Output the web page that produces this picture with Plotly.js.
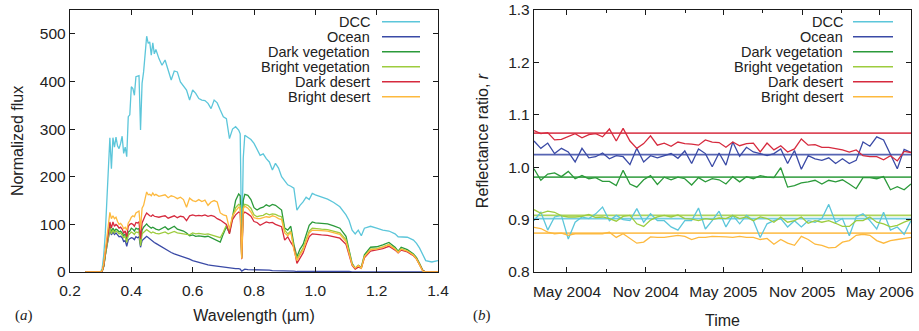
<!DOCTYPE html>
<html>
<head>
<meta charset="utf-8">
<script src="https://cdn.plot.ly/plotly-3.0.1.min.js"></script>
<style>html,body{margin:0;padding:0;background:#fff;}#chart{width:919px;height:331px;}</style>
</head>
<body>
<div id="chart"></div>
<script>
// ---------- Panel (a): spectra ----------
const seriesNames = ["DCC", "Ocean", "Dark vegetation", "Bright vegetation", "Dark desert", "Bright desert"];
const seriesColors = ["#5cc6da", "#3a4aa6", "#2b9a3a", "#9dcc3e", "#d62a3e", "#fdb93e"];

const wavelength = [0.25,0.30,0.305,0.31,0.315,0.32,0.325,0.33,0.335,0.34,0.345,0.35,0.355,0.36,0.365,0.37,0.375,0.38,0.385,0.39,0.395,0.40,0.405,0.41,0.415,0.42,0.425,0.43,0.435,0.44,0.445,0.45,0.455,0.46,0.465,0.47,0.475,0.48,
0.49,0.50,0.51,0.52,0.53,0.54,0.55,0.56,0.57,0.58,0.59,0.60,0.61,0.62,0.63,0.64,0.65,0.66,0.67,0.68,0.69,0.70,0.71,0.72,0.73,0.74,0.75,0.755,0.76,0.765,
0.77,0.78,0.79,0.80,0.81,0.82,0.83,0.84,0.85,0.86,0.87,0.88,0.89,0.90,0.91,0.92,0.93,0.94,0.95,0.96,0.97,0.98,0.99,
1.00,1.02,1.04,1.06,1.08,1.10,1.11,1.12,1.13,1.14,1.15,1.16,1.18,1.20,1.22,1.24,1.26,1.27,1.28,1.30,1.32,1.33,1.34,1.35,1.36,1.38,1.40];

const fluxDCC = [0,0,8,35,80,155,240,282,217,282,262,283,265,259,270,285,249,262,242,326,330,389,385,371,410,411,412,298,396,420,460,495,480,483,455,481,458,467,
448,434,445,424,403,422,420,399,390,382,361,382,375,364,361,360,354,343,361,355,340,326,322,280,300,305,298,290,50,240,
287,282,278,270,258,245,248,238,231,214,228,218,200,192,183,180,176,130,140,147,157,152,165,
162,158,153,146,137,120,108,88,80,88,76,92,96,92,88,86,80,74,74,73,67,60,50,35,24,21,24];

const fluxOcean = [0,0,2,12,35,55,75,88,78,84,79,82,78,74,75,72,64,66,54,67,70,72,71,68,74,72,74,52,66,70,72,75,72,70,67,64,62,60,
56,52,48,44,41,38,36,34,31,29,27,24,22,20,18,16,15,14,13,12,11,10,9,8,8,7,7,6,2,5,
6,5,5,5,4,4,4,4,4,3,3,3,3,3,2,2,2,1,1,2,2,2,2,
2,2,2,1,1,1,1,0,0,0,0,0,0,0,0,0,0,0,0,0,0,0,0,0,0,0,0];

const fluxDarkVeg = [0,0,2,12,35,60,82,97,84,92,86,90,88,84,86,82,76,80,66,84,86,92,90,86,92,90,91,58,88,94,97,101,97,95,92,94,91,90,
88,92,95,89,93,96,90,88,86,82,76,78,75,76,75,74,75,72,69,66,63,80,95,82,120,150,164,160,30,150,
163,161,152,135,130,134,136,141,138,142,140,134,130,92,88,96,58,32,48,58,76,98,105,
103,102,101,97,92,75,48,18,8,14,10,36,52,53,57,62,52,44,52,47,38,30,18,4,0,0,0];

const fluxBrightVeg = [0,0,2,12,34,57,78,92,80,88,82,86,84,80,82,78,72,75,62,77,80,84,82,79,84,83,84,55,80,84,86,89,86,85,82,84,82,81,
80,82,84,80,82,85,82,81,80,79,78,82,80,81,80,79,80,78,76,74,72,84,98,84,115,135,142,140,30,136,
142,140,134,120,116,118,119,123,120,122,121,118,116,88,80,86,52,28,40,50,68,86,92,
91,90,89,86,82,68,44,16,7,12,9,33,48,49,53,58,49,42,49,44,36,28,16,3,0,0,0];

const fluxDarkDesert = [0,0,2,14,40,62,88,105,92,105,96,100,97,92,94,90,82,86,74,96,100,102,100,96,104,103,105,70,103,112,118,124,120,118,117,120,117,116,
115,117,118,113,116,118,114,117,116,108,118,120,118,119,118,120,117,119,117,112,109,104,100,80,110,120,126,124,27,122,
126,122,117,106,104,98,102,105,103,104,100,98,95,67,74,62,52,18,30,40,58,74,80,
79,78,77,74,71,58,38,14,6,10,8,30,44,46,49,54,46,40,46,42,34,27,15,3,0,0,0];

const fluxBrightDesert = [0,0,3,18,45,70,100,125,112,118,112,115,106,100,102,98,91,94,88,103,108,115,118,116,124,126,128,90,134,140,155,168,162,163,160,166,161,163,
159,160,162,156,160,158,154,157,152,136,155,150,148,152,148,151,140,147,150,147,124,120,118,90,118,128,136,134,28,133,
138,134,126,114,112,112,114,116,115,118,116,112,110,82,76,84,46,24,36,46,64,82,88,
88,87,86,83,79,64,42,15,8,14,8,32,47,48,52,57,48,41,48,44,35,27,15,2,0,0,0];

// ---------- Panel (b): reflectance ratio time series ----------
const dates = ["2004-02-14","2004-03-01","2004-03-17","2004-04-02","2004-04-18","2004-05-04","2004-05-20","2004-06-05","2004-06-21","2004-07-07",
"2004-07-23","2004-08-08","2004-08-24","2004-09-09","2004-09-25","2004-10-11","2004-10-27","2004-11-12","2004-11-28","2004-12-14",
"2004-12-30","2005-01-15","2005-01-31","2005-02-16","2005-03-04","2005-03-20","2005-04-05","2005-04-21","2005-05-07","2005-05-23",
"2005-06-08","2005-06-24","2005-07-10","2005-07-26","2005-08-11","2005-08-27","2005-09-12","2005-09-28","2005-10-14","2005-10-30",
"2005-11-15","2005-12-01","2005-12-17","2006-01-02","2006-01-18","2006-02-03","2006-02-19","2006-03-07","2006-03-23","2006-04-08",
"2006-04-24","2006-05-10","2006-05-26","2006-06-11","2006-06-27","2006-07-13"];

const ratioDCC = [0.898,0.914,0.880,0.905,0.908,0.863,0.895,0.905,0.902,0.911,0.924,0.898,0.908,0.900,0.898,0.921,0.895,0.911,0.898,0.898,
0.886,0.880,0.898,0.898,0.922,0.882,0.898,0.916,0.886,0.908,0.892,0.908,0.898,0.866,0.892,0.898,0.902,0.886,0.898,0.886,
0.898,0.895,0.902,0.929,0.895,0.902,0.869,0.905,0.911,0.898,0.882,0.914,0.880,0.886,0.872,0.898];

const ratioOcean = [1.050,1.036,1.046,1.026,1.036,1.029,1.010,1.036,1.018,1.020,1.027,1.016,1.022,1.020,1.005,1.036,1.010,1.022,1.018,1.022,
1.026,1.017,1.031,1.007,1.035,1.026,1.001,1.027,1.004,1.048,1.021,1.038,1.029,1.026,1.022,1.026,1.035,1.007,1.032,0.996,
1.022,1.016,1.013,1.018,1.007,1.016,1.007,1.013,1.048,1.040,1.058,1.052,1.024,0.997,1.034,1.028];

const ratioDarkVeg = [0.997,0.975,0.987,0.989,0.982,0.992,0.978,0.984,0.978,0.980,0.973,0.973,0.965,0.994,0.968,0.962,0.976,0.984,0.967,0.981,
0.976,0.981,0.978,0.966,0.980,0.972,0.978,0.976,0.968,0.982,0.972,0.982,0.978,0.984,0.981,0.980,0.999,0.962,0.965,0.970,
0.972,0.975,0.968,0.975,0.972,0.976,0.968,0.959,0.980,0.980,0.978,0.982,0.957,0.963,0.957,0.968];

const ratioBrightVeg = [0.919,0.912,0.916,0.914,0.907,0.905,0.905,0.906,0.910,0.904,0.905,0.902,0.897,0.906,0.908,0.892,0.887,0.899,0.905,0.908,
0.905,0.909,0.902,0.901,0.898,0.902,0.900,0.903,0.902,0.908,0.902,0.905,0.898,0.905,0.902,0.895,0.905,0.895,0.898,0.905,
0.893,0.898,0.895,0.898,0.893,0.887,0.887,0.898,0.898,0.905,0.895,0.892,0.886,0.889,0.895,0.900];

const ratioDarkDesert = [1.070,1.064,1.066,1.052,1.053,1.058,1.064,1.056,1.062,1.064,1.058,1.073,1.050,1.074,1.050,1.036,1.045,1.060,1.042,1.046,
1.040,1.048,1.045,1.044,1.042,1.052,1.048,1.047,1.038,1.048,1.041,1.045,1.046,1.029,1.046,1.033,1.041,1.029,1.035,1.054,
1.042,1.043,1.038,1.038,1.036,1.033,1.029,1.033,1.022,1.020,1.020,1.014,1.022,1.012,1.030,1.028];

const ratioBrightDesert = [0.885,0.883,0.876,0.873,0.874,0.870,0.873,0.873,0.872,0.873,0.873,0.876,0.866,0.873,0.864,0.855,0.857,0.867,0.866,0.866,
0.868,0.870,0.868,0.862,0.866,0.866,0.868,0.868,0.867,0.866,0.868,0.866,0.866,0.862,0.864,0.853,0.862,0.855,0.851,0.868,
0.862,0.853,0.851,0.846,0.847,0.857,0.860,0.870,0.872,0.870,0.860,0.855,0.860,0.862,0.864,0.866];

const refLevels = [0.902, 1.024, 0.981, 0.908, 1.065, 0.874];

// ---------- build ----------
const fluxes = [fluxDCC, fluxOcean, fluxDarkVeg, fluxBrightVeg, fluxDarkDesert, fluxBrightDesert];
const ratios = [ratioDCC, ratioOcean, ratioDarkVeg, ratioBrightVeg, ratioDarkDesert, ratioBrightDesert];

const traces = [];
fluxes.forEach((f, k) => {
  traces.push({x: wavelength, y: f, type: 'scatter', mode: 'lines', xaxis: 'x', yaxis: 'y',
    line: {color: seriesColors[k], width: 1.3}, showlegend: false, hoverinfo: 'skip'});
});
ratios.forEach((r, k) => {
  traces.push({x: [dates[0], dates[dates.length - 1]], y: [refLevels[k], refLevels[k]], type: 'scatter', mode: 'lines',
    xaxis: 'x2', yaxis: 'y2', line: {color: seriesColors[k], width: 1.8}, opacity: 0.85, showlegend: false, hoverinfo: 'skip'});
});
ratios.forEach((r, k) => {
  traces.push({x: dates, y: r, type: 'scatter', mode: 'lines', xaxis: 'x2', yaxis: 'y2',
    line: {color: seriesColors[k], width: 1.3}, showlegend: false, hoverinfo: 'skip'});
});

const W = 919, H = 331;
const px = v => v / W;
const py = v => 1 - v / H;
const FONT = 'Liberation Sans, Arial, Helvetica, sans-serif';
const TXT = '#222';

const axisCommon = {
  showline: true, linecolor: '#1a1a1a', linewidth: 1.2, mirror: 'ticks',
  ticks: 'inside', ticklen: 5, tickcolor: '#1a1a1a', tickwidth: 1,
  showgrid: false, zeroline: false, tickfont: {family: FONT, size: 15.5, color: TXT}
};

const annotations = [];
const shapes = [];
function legend(textRight, lineL, lineR) {
  seriesNames.forEach((name, k) => {
    const yy = py(21.7 + 15 * k);
    annotations.push({xref: 'paper', yref: 'paper', x: px(textRight), y: yy, xanchor: 'right', yanchor: 'middle',
      text: name, showarrow: false, font: {family: FONT, size: 14.5, color: TXT}});
    shapes.push({type: 'line', xref: 'paper', yref: 'paper', x0: px(lineL), x1: px(lineR), y0: yy, y1: yy,
      line: {color: seriesColors[k], width: 1.5}});
  });
}
legend(372, 382, 420);
legend(845, 853, 893);

annotations.push({xref: 'paper', yref: 'paper', x: px(13), y: py(315), xanchor: 'left', yanchor: 'middle',
  text: '(<i>a</i>)', showarrow: false, font: {family: 'Liberation Serif, Times New Roman, serif', size: 15, color: TXT}});
annotations.push({xref: 'paper', yref: 'paper', x: px(471), y: py(315), xanchor: 'left', yanchor: 'middle',
  text: '(<i>b</i>)', showarrow: false, font: {family: 'Liberation Serif, Times New Roman, serif', size: 15, color: TXT}});

const layout = {
  width: W, height: H,
  margin: {l: 0, r: 0, t: 0, b: 0},
  paper_bgcolor: '#fff', plot_bgcolor: '#fff',
  showlegend: false,
  font: {family: FONT, color: TXT},
  xaxis: Object.assign({}, axisCommon, {
    domain: [px(70), px(438)], anchor: 'y', range: [0.2, 1.4], tick0: 0.2, dtick: 0.2, tickformat: '.1f',
    ticklabelstandoff: 4,
    title: {text: 'Wavelength (µm)', font: {family: FONT, size: 16, color: TXT}, standoff: 12}
  }),
  yaxis: Object.assign({}, axisCommon, {
    domain: [py(272), py(10)], anchor: 'x', range: [0, 550], tick0: 0, dtick: 100,
    title: {text: 'Normalized flux', font: {family: FONT, size: 16, color: TXT}, standoff: 12}
  }),
  xaxis2: Object.assign({}, axisCommon, {
    domain: [px(534), px(911)], anchor: 'y2', type: 'date', range: ['2004-02-14', '2006-07-13'],
    tick0: '2004-05-01', dtick: 'M6', tickformat: '%b %Y', ticklabelstandoff: 5,
    minor: {tick0: '2004-05-01', dtick: 'M3', ticks: 'inside', ticklen: 3, tickcolor: '#1a1a1a', showgrid: false},
    title: {text: 'Time', font: {family: FONT, size: 16, color: TXT}, standoff: 16}
  }),
  yaxis2: Object.assign({}, axisCommon, {
    domain: [py(272), py(10)], anchor: 'x2', range: [0.8, 1.3], tick0: 0.8, dtick: 0.1, tickformat: '.1f',
    title: {text: 'Reflectance ratio, <i>r</i>', font: {family: FONT, size: 16, color: TXT}, standoff: 15}
  }),
  annotations: annotations,
  shapes: shapes
};

Plotly.newPlot('chart', traces, layout, {staticPlot: true, displayModeBar: false});
</script>
</body>
</html>
